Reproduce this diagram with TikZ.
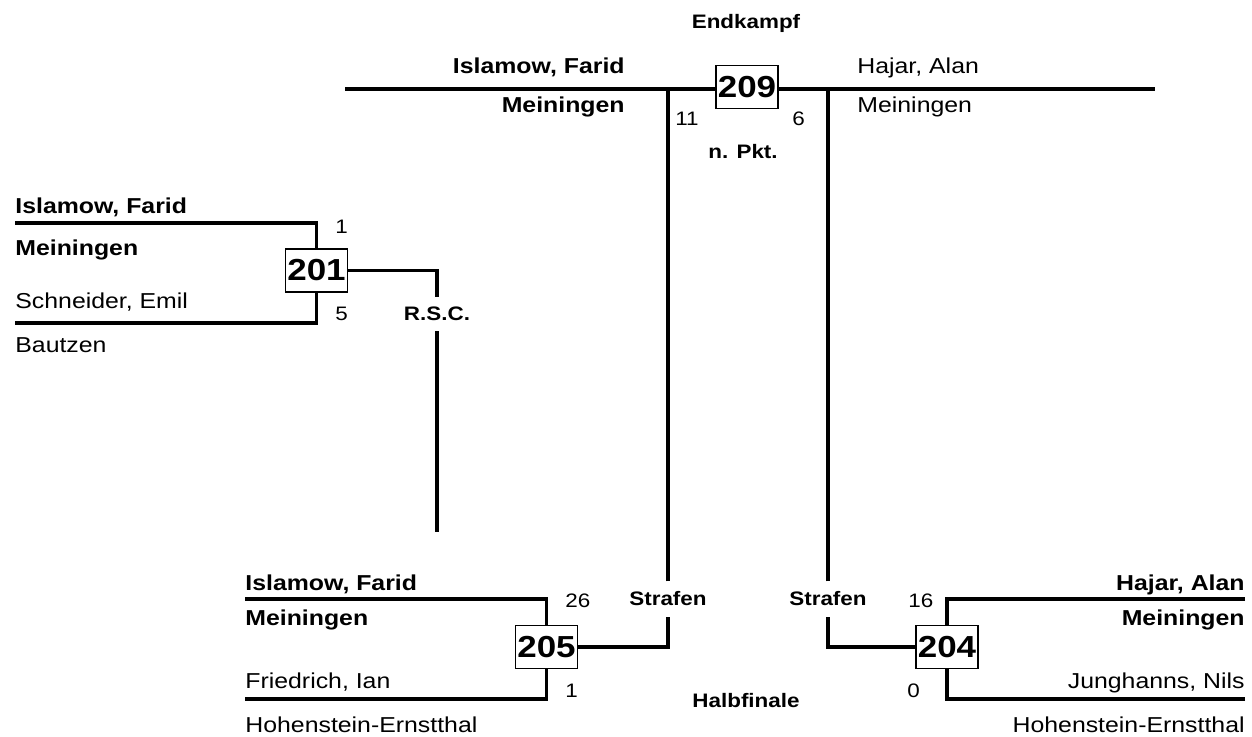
\documentclass[tikz,border=0pt]{standalone}
\usepackage{fontspec}
\setmainfont{Liberation Sans}[FakeStretch=1.15]

\tikzset{
  kampf/.style={draw, line width=0.8pt, inner sep=1pt, minimum width=31pt,
    minimum height=21.5pt, font=\fontsize{15.2}{17}\selectfont\bfseries},
  sieger/.style={inner sep=0pt, font=\fontsize{10.8}{12}\selectfont\bfseries},
  verlierer/.style={inner sep=0pt, font=\fontsize{10.8}{12}\selectfont},
  punkte/.style={inner sep=0pt, font=\fontsize{9.75}{11}\selectfont},
  wertung/.style={inner xsep=0pt, inner ysep=5pt, font=\fontsize{9.75}{11}\selectfont\bfseries},
  linie/.style={line width=1.6pt},
}

\begin{document}
\begin{tikzpicture}[x=0.5pt,y=-0.5pt]
        \useasboundingbox (0,0) rectangle (1252,736);

        % Endkampf
        \node[wertung, anchor=base] (titel) at (746,28) {Endkampf};
        \node[kampf] (k209) at (747,87) {209};
        \node[sieger, anchor=base east] (n209a) at (625,73) {Islamow, Farid};
        \node[sieger, anchor=base east] (c209a) at (625,112) {Meiningen};
        \node[verlierer, anchor=base west] (n209b) at (857,73) {Hajar, Alan};
        \node[verlierer, anchor=base west] (c209b) at (857,112) {Meiningen};
        \node[punkte, anchor=base west] (p209a) at (675,125) {11};
        \node[punkte, anchor=base west] (p209b) at (792,125) {6};
        \node[wertung, anchor=base] (w209) at (743,158) {n. Pkt.};
        \coordinate (l209) at (345,89);
        \coordinate (r209) at (1155,89);
        \draw[linie] (l209) -- (l209 -| k209.west);
        \draw[linie] (r209 -| k209.east) -- (r209);

        % Kampf 201
        \node[kampf] (k201) at (316.5,270.5) {201};
        \node[sieger, anchor=base west] (n201a) at (15,213) {Islamow, Farid};
        \node[sieger, anchor=base west] (c201a) at (15,255) {Meiningen};
        \node[verlierer, anchor=base west] (n201b) at (15,308) {Schneider, Emil};
        \node[verlierer, anchor=base west] (c201b) at (15,352) {Bautzen};
        \node[punkte, anchor=base west] (p201a) at (335,233) {1};
        \node[punkte, anchor=base west] (p201b) at (335,320) {5};
        \node[wertung] (w201) at (437,314) {R.S.C.};
        \coordinate (a201) at (15,223);
        \coordinate (b201) at (15,323);
        \coordinate (e201) at (437,532);
        \draw[linie] (a201) -| (k201.north);
        \draw[linie] (b201) -| (k201.south);
        \draw[linie] (k201.east) -| (w201.north);
        \draw[linie] (w201.south) -- (e201);

        % Halbfinale
        \node[wertung, anchor=base] (titel2) at (746,707) {Halbfinale};

        % Kampf 205
        \node[kampf] (k205) at (546.5,647) {205};
        \node[sieger, anchor=base west] (n205a) at (245,590) {Islamow, Farid};
        \node[sieger, anchor=base west] (c205a) at (245,625) {Meiningen};
        \node[verlierer, anchor=base west] (n205b) at (245,688) {Friedrich, Ian};
        \node[verlierer, anchor=base west] (c205b) at (245,732) {Hohenstein-Ernstthal};
        \node[punkte, anchor=base west] (p205a) at (565,607) {26};
        \node[punkte, anchor=base west] (p205b) at (565,697) {1};
        \node[wertung] (w205) at (668,599) {Strafen};
        \coordinate (a205) at (245,599);
        \coordinate (b205) at (245,699);
        \draw[linie] (a205) -| (k205.north);
        \draw[linie] (b205) -| (k205.south);
        \draw[linie] (k205.east) -| (w205.south);
        \draw[linie] (w205.north) -- (w205.north |- l209);

        % Kampf 204
        \node[kampf] (k204) at (947,647) {204};
        \node[sieger, anchor=base east] (n204a) at (1245,590) {Hajar, Alan};
        \node[sieger, anchor=base east] (c204a) at (1245,625) {Meiningen};
        \node[verlierer, anchor=base east] (n204b) at (1245,688) {Junghanns, Nils};
        \node[verlierer, anchor=base east] (c204b) at (1245,732) {Hohenstein-Ernstthal};
        \node[punkte, anchor=base west] (p204a) at (908,607) {16};
        \node[punkte, anchor=base west] (p204b) at (907,697) {0};
        \node[wertung] (w204) at (828,599) {Strafen};
        \coordinate (a204) at (1245,599);
        \coordinate (b204) at (1245,699);
        \draw[linie] (a204) -| (k204.north);
        \draw[linie] (b204) -| (k204.south);
        \draw[linie] (k204.west) -| (w204.south);
        \draw[linie] (w204.north) -- (w204.north |- r209);
      \end{tikzpicture}
\end{document}
